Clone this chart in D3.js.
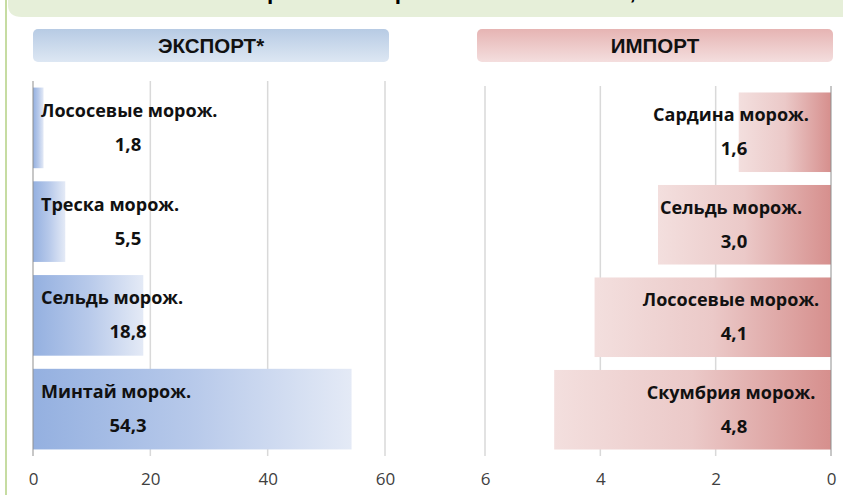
<!DOCTYPE html>
<html>
<head>
<meta charset="utf-8">
<script src="https://cdn.jsdelivr.net/npm/d3@7"></script>
<style>
  html, body { margin: 0; padding: 0; background: #fff; }
  svg { display: block; }
</style>
</head>
<body>
<div id="chart"></div>
<script>
// data
const exportNames = ["Лососевые морож.", "Треска морож.", "Сельдь морож.", "Минтай морож."];
const exportValues = [1.8, 5.5, 18.8, 54.3];
const exportTicks = [0, 20, 40, 60];

const importNames = ["Сардина морож.", "Сельдь морож.", "Лососевые морож.", "Скумбрия морож."];
const importValues = [1.6, 3.0, 4.1, 4.8];
const importTicks = [6, 4, 2, 0];

const titleText = "Главные статьи экспорта и импорта в 2014 и 2015 гг., %";
const headers = ["ЭКСПОРТ*", "ИМПОРТ"];

const width = 843, height = 495;
const fmt = v => d3.format(".1f")(v).replace(".", ",");
const labelFont = "Open Sans, sans-serif";

const svg = d3.select("#chart").append("svg")
    .attr("width", width)
    .attr("height", height);

const defs = svg.append("defs");

function grad(id, stops, vertical) {
    const g = defs.append("linearGradient").attr("id", id)
        .attr("x1", 0).attr("y1", 0)
        .attr("x2", vertical ? 0 : 1).attr("y2", vertical ? 1 : 0);
    stops.forEach((c, i) => g.append("stop")
        .attr("offset", i / (stops.length - 1))
        .attr("stop-color", c));
}
grad("blueBar", ["#94b0e0", "#b7c9ea", "#e4eaf6"], false);
grad("pinkBar", ["#f3dfde", "#ebc9c8", "#d68f8d"], false);
grad("blueHead", ["#b7cbe4", "#dde7f3"], true);
grad("pinkHead", ["#e6b4b3", "#f4dede"], true);

// title banner, the slide crop leaves only the bottom of it
svg.append("path")
    .attr("d", "M8,0 H843 V17 H22 Q8,17 8,5 Z")
    .attr("fill", "#e6efd9");
svg.append("text")
    .attr("x", 12)
    .attr("y", -1)
    .attr("font-family", "Liberation Sans, Arial, sans-serif")
    .attr("font-weight", "bold")
    .attr("font-size", 22.6)
    .attr("word-spacing", 3)
    .attr("fill", "#000")
    .text(titleText);
svg.append("rect")
    .attr("x", 5).attr("y", 0)
    .attr("width", 2).attr("height", height)
    .attr("fill", "#c6dca2");

// header boxes
const headBoxes = [
    { x: 33, w: 356, fill: "url(#blueHead)", text: headers[0] },
    { x: 477, w: 356, fill: "url(#pinkHead)", text: headers[1] }
];
headBoxes.forEach(h => {
    svg.append("rect")
        .attr("x", h.x).attr("y", 29)
        .attr("width", h.w).attr("height", 33)
        .attr("rx", 5)
        .attr("fill", h.fill);
    svg.append("text")
        .attr("x", h.x + h.w / 2)
        .attr("y", 53)
        .attr("text-anchor", "middle")
        .attr("font-family", "Liberation Sans, Arial, sans-serif")
        .attr("font-weight", "bold")
        .attr("font-size", 20.5)
        .attr("fill", "#111")
        .text(h.text);
});

function panel(opts) {
    const { names, values, ticks, x, y, fill, nameAnchor, nameX, valueX } = opts;
    const g = svg.append("g");

    // gridlines
    g.selectAll(".grid")
        .data(ticks.filter(t => t !== 0))
        .enter().append("line")
        .attr("x1", d => x(d)).attr("x2", d => x(d))
        .attr("y1", y.range()[0]).attr("y2", y.range()[1])
        .attr("stroke", "#d9d9d9")
        .attr("stroke-width", 1.5);

    // bars
    g.selectAll(".bar")
        .data(values)
        .enter().append("rect")
        .attr("x", d => Math.min(x(0), x(d)))
        .attr("y", (d, i) => y(names[i]))
        .attr("width", d => Math.abs(x(d) - x(0)))
        .attr("height", y.bandwidth())
        .attr("fill", fill);

    // value axis line
    g.append("line")
        .attr("x1", x(0)).attr("x2", x(0))
        .attr("y1", y.range()[0]).attr("y2", y.range()[1])
        .attr("stroke", "#8f8f8f")
        .attr("stroke-width", 1);

    // tick labels
    const axis = d3.axisBottom(x).tickValues(ticks).tickSize(0).tickPadding(0)
        .tickFormat(d3.format("d"));
    const ax = g.append("g")
        .attr("transform", `translate(0,${y.range()[1] + 17})`)
        .call(axis);
    ax.select(".domain").remove();
    ax.selectAll("text")
        .attr("font-family", "Open Sans, sans-serif")
        .attr("font-size", 17)
        .attr("fill", "#404040");

    // data labels: category name and value
    const lab = g.selectAll(".lab")
        .data(values)
        .enter().append("g");
    lab.append("text")
        .attr("x", nameX)
        .attr("y", (d, i) => y(names[i]) + y.bandwidth() / 2 - 11)
        .attr("text-anchor", nameAnchor)
        .attr("font-family", labelFont)
        .attr("font-weight", "bold")
        .attr("font-size", 18)
        .attr("fill", "#111")
        .text((d, i) => names[i]);
    lab.append("text")
        .attr("x", valueX)
        .attr("y", (d, i) => y(names[i]) + y.bandwidth() / 2 + 23)
        .attr("text-anchor", "middle")
        .attr("font-family", labelFont)
        .attr("font-weight", "bold")
        .attr("font-size", 18.5)
        .attr("fill", "#111")
        .text(d => fmt(d));
}

const xLeft = d3.scaleLinear().domain([0, 60]).range([33, 385]);
const yLeft = d3.scaleBand().domain(exportNames).range([81, 456])
    .paddingInner(0.14).paddingOuter(0.07);
panel({
    names: exportNames, values: exportValues, ticks: exportTicks,
    x: xLeft, y: yLeft, fill: "url(#blueBar)",
    nameAnchor: "start", nameX: 41, valueX: 128
});

const xRight = d3.scaleLinear().domain([6, 0]).range([485, 831]);
const yRight = d3.scaleBand().domain(importNames).range([86, 456])
    .paddingInner(0.14).paddingOuter(0.07);
panel({
    names: importNames, values: importValues, ticks: importTicks,
    x: xRight, y: yRight, fill: "url(#pinkBar)",
    nameAnchor: "middle", nameX: 731, valueX: 734
});
</script>
</body>
</html>
